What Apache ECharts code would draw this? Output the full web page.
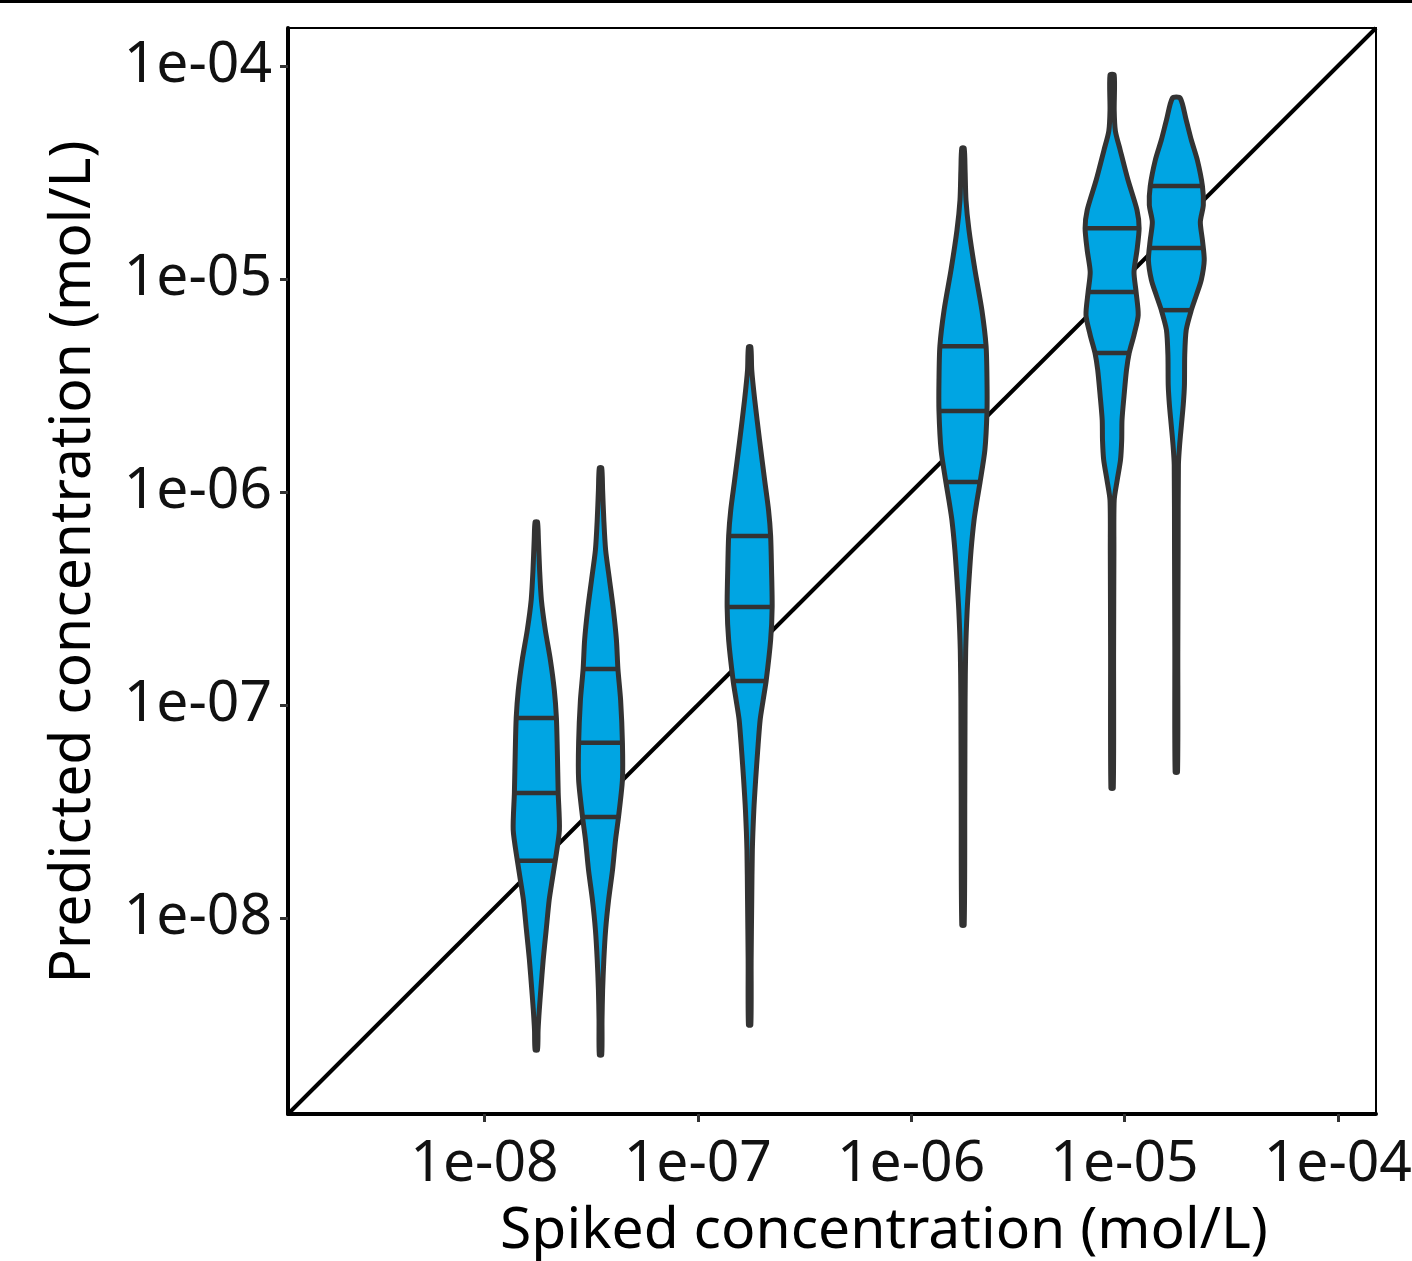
<!DOCTYPE html>
<html>
<head>
<meta charset="utf-8">
<script src="https://cdn.jsdelivr.net/npm/echarts@6/dist/echarts.min.js"></script>
<style>
html, body { margin: 0; padding: 0; background: #fff; }
#chart { width: 1412px; height: 1261px; }
</style>
</head>
<body>
<div id="chart"></div>
<script>
// spiked concentrations (x) of the six violins
var spiked = [1.75e-8, 3.5e-8, 1.75e-7, 1.75e-6, 8.75e-6, 1.75e-5];

// violin profiles: log10 predicted concentration (top to bottom) and relative density
var levels1 = [-6.141, -6.225, -6.366, -6.507, -6.648, -6.789, -6.930, -7.061, -7.211, -7.413, -7.587, -7.732, -7.822, -7.915, -8.056, -8.197, -8.338, -8.432, -8.526, -8.620];
var dens1   = [0.04, 0.07, 0.11, 0.17, 0.30, 0.47, 0.60, 0.67, 0.70, 0.73, 0.77, 0.63, 0.53, 0.43, 0.33, 0.23, 0.15, 0.10, 0.06, 0.04];

var levels2 = [-5.887, -5.991, -6.131, -6.272, -6.413, -6.554, -6.695, -6.831, -6.977, -7.178, -7.352, -7.526, -7.634, -7.775, -7.915, -8.056, -8.197, -8.338, -8.479, -8.643];
var dens2   = [0.04, 0.07, 0.11, 0.17, 0.30, 0.43, 0.53, 0.58, 0.67, 0.73, 0.73, 0.60, 0.50, 0.40, 0.27, 0.17, 0.11, 0.07, 0.05, 0.04];

var levels3 = [-5.319, -5.427, -5.568, -5.756, -5.944, -6.085, -6.207, -6.366, -6.540, -6.695, -6.887, -6.977, -7.070, -7.211, -7.352, -7.493, -7.681, -7.915, -8.197, -8.502];
var dens3   = [0.04, 0.07, 0.17, 0.33, 0.50, 0.63, 0.70, 0.73, 0.75, 0.70, 0.55, 0.45, 0.35, 0.27, 0.20, 0.14, 0.09, 0.07, 0.05, 0.04];

var levels4 = [-4.385, -4.488, -4.629, -4.770, -4.958, -5.146, -5.315, -5.474, -5.620, -5.803, -5.953, -6.038, -6.131, -6.272, -6.413, -6.554, -6.742, -6.977, -7.446, -8.033];
var dens4   = [0.04, 0.07, 0.10, 0.20, 0.40, 0.63, 0.77, 0.80, 0.80, 0.73, 0.57, 0.47, 0.37, 0.27, 0.20, 0.14, 0.09, 0.07, 0.06, 0.04];

var levels5 = [-4.042, -4.207, -4.305, -4.394, -4.535, -4.676, -4.761, -4.864, -4.967, -5.061, -5.169, -5.263, -5.347, -5.427, -5.545, -5.662, -5.756, -5.850, -5.944, -6.038, -6.272, -6.742, -7.390];
var dens5   = [0.07, 0.07, 0.11, 0.27, 0.53, 0.83, 0.90, 0.83, 0.73, 0.80, 0.87, 0.73, 0.57, 0.48, 0.40, 0.33, 0.32, 0.28, 0.17, 0.07, 0.06, 0.05, 0.04];

var levels6 = [-4.150, -4.254, -4.347, -4.441, -4.563, -4.653, -4.732, -4.817, -4.911, -5.005, -5.075, -5.146, -5.239, -5.357, -5.498, -5.592, -5.685, -5.779, -5.873, -6.272, -6.742, -7.315];
var dens6   = [0.13, 0.33, 0.50, 0.70, 0.87, 0.90, 0.80, 0.87, 0.93, 0.83, 0.67, 0.50, 0.33, 0.28, 0.27, 0.23, 0.17, 0.11, 0.07, 0.06, 0.05, 0.04];

// 75%, 50%, 25% quantiles (log10)
var quant1 = [-7.061, -7.413, -7.732];
var quant2 = [-6.831, -7.178, -7.526];
var quant3 = [-6.207, -6.540, -6.887];
var quant4 = [-5.315, -5.620, -5.953];
var quant5 = [-4.761, -5.061, -5.347];
var quant6 = [-4.563, -4.854, -5.146];

var tickValues = [1e-8, 1e-7, 1e-6, 1e-5, 1e-4];
var axisMin = 1.2e-9;
var axisMax = 1.51e-4;

var levels = [levels1, levels2, levels3, levels4, levels5, levels6];
var dens = [dens1, dens2, dens3, dens4, dens5, dens6];
var quants = [quant1, quant2, quant3, quant4, quant5, quant6];

var halfWidth = 30;
var fontFamily = '"Noto Sans", "Open Sans", sans-serif';

function interp(lv, dn, q) {
    for (var k = 0; k < lv.length - 1; k++) {
        var a = lv[k], b = lv[k + 1];
        if ((q <= a && q >= b) || (q >= a && q <= b)) {
            var t = (q - a) / (b - a);
            return dn[k] + t * (dn[k + 1] - dn[k]);
        }
    }
    return 0;
}

function fmt(v) {
    var e = Math.round(Math.log10(v));
    return '1e-' + ('0' + (-e)).slice(-2);
}

var myChart = echarts.init(document.getElementById('chart'));

myChart.setOption({
    animation: false,
    backgroundColor: '#fff',
    textStyle: { fontFamily: fontFamily },
    graphic: [{
        type: 'rect',
        left: 0,
        top: 0,
        shape: { width: 1412, height: 3 },
        style: { fill: '#000' }
    }],
    grid: {
        left: 288,
        top: 28,
        right: 36,
        bottom: 147,
        containLabel: false,
        outerBoundsMode: 'none',
        show: true,
        borderColor: '#000',
        borderWidth: 2
    },
    xAxis: {
        type: 'log',
        logBase: 10,
        min: axisMin,
        max: axisMax,
        name: 'Spiked concentration (mol/L)',
        nameLocation: 'middle',
        nameGap: 89,
        nameTextStyle: { fontSize: 57, color: '#000', fontFamily: fontFamily, padding: [0, 0, 0, 104] },
        axisLine: { show: true, onZero: false, lineStyle: { color: '#000', width: 4 } },
        axisTick: { show: true, customValues: tickValues, length: 8, lineStyle: { color: '#333', width: 3 } },
        axisLabel: {
            customValues: tickValues,
            formatter: fmt,
            fontSize: 57,
            color: '#111',
            margin: 22,
            fontFamily: fontFamily
        },
        splitLine: { show: false },
        minorTick: { show: false }
    },
    yAxis: {
        type: 'log',
        logBase: 10,
        min: axisMin,
        max: axisMax,
        name: 'Predicted concentration (mol/L)',
        nameLocation: 'middle',
        nameGap: 186,
        nameTextStyle: { fontSize: 57, color: '#000', fontFamily: fontFamily, padding: [0, 0, 0, 18] },
        axisLine: { show: true, onZero: false, lineStyle: { color: '#000', width: 4 } },
        axisTick: { show: true, customValues: tickValues, length: 8, lineStyle: { color: '#333', width: 3 } },
        axisLabel: {
            customValues: tickValues,
            formatter: fmt,
            fontSize: 57,
            color: '#111',
            margin: 16,
            fontFamily: fontFamily
        },
        splitLine: { show: false },
        minorTick: { show: false }
    },
    series: [{
        name: 'identity',
        type: 'line',
        data: [[axisMin, axisMin], [axisMax, axisMax]],
        symbol: 'none',
        lineStyle: { color: '#000', width: 4 },
        z: 1
    }, {
        name: 'violins',
        type: 'custom',
        z: 2,
        data: spiked.map(function (x, i) { return [x, Math.pow(10, quants[i][1])]; }),
        encode: { x: 0, y: 1 },
        renderItem: function (params, api) {
            var i = params.dataIndex;
            var lv = levels[i], dn = dens[i];
            var cx = api.coord([spiked[i], 1e-6])[0];
            var right = [], left = [];
            for (var k = 0; k < lv.length; k++) {
                var y = api.coord([spiked[i], Math.pow(10, lv[k])])[1];
                var w = dn[k] * halfWidth;
                right.push([cx + w, y]);
                left.unshift([cx - w, y]);
            }
            var children = [{
                type: 'polygon',
                shape: { points: right.concat(left), smooth: 0.25 },
                style: { fill: '#00a5e3', stroke: '#333', lineWidth: 5, lineJoin: 'round' }
            }];
            quants[i].forEach(function (q) {
                var w = interp(lv, dn, q) * halfWidth;
                var y = api.coord([spiked[i], Math.pow(10, q)])[1];
                children.push({
                    type: 'line',
                    shape: { x1: cx - w, y1: y, x2: cx + w, y2: y },
                    style: { stroke: '#333', lineWidth: 4.5 }
                });
            });
            return { type: 'group', children: children };
        }
    }]
});
</script>
</body>
</html>
